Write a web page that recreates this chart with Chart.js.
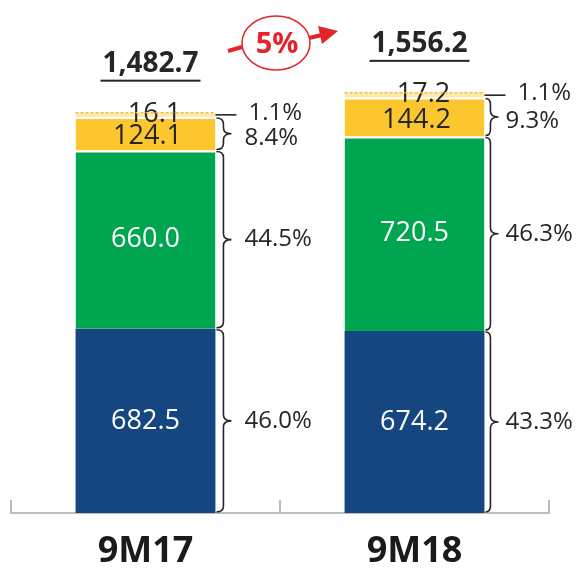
<!DOCTYPE html>
<html lang="en">
<head>
    <meta charset="UTF-8">
    <title>9M17 vs 9M18</title>
    <style>
        body {
            margin: 0;
            background: #fff;
        }
        #wrap {
            width: 579px;
            height: 571px;
        }
    </style>
    <script src="https://cdn.jsdelivr.net/npm/chart.js"></script>
</head>
<body>
    <div id="wrap">
        <canvas id="chart" width="579" height="571"></canvas>
    </div>

    <script>
        // Data
        const categories = ['9M17', '9M18'];
        const blueValues = [682.5, 674.2];
        const greenValues = [660.0, 720.5];
        const yellowValues = [124.1, 144.2];
        const topValues = [16.1, 17.2];
        const totalLabels = ['1,482.7', '1,556.2'];
        const bluePct = ['46.0%', '43.3%'];
        const greenPct = ['44.5%', '46.3%'];
        const yellowPct = ['8.4%', '9.3%'];
        const topPct = ['1.1%', '1.1%'];
        const growthLabel = '5%';

        const DARK = '#262626';
        const RED = '#e3252b';
        const FONT = "'Open Sans', sans-serif";

        // draws a curly brace to the right of a segment
        function brace(ctx, x0, x1, top, bot) {
            const mid = (top + bot) / 2;
            const r = Math.min(6, (bot - top) / 4);
            const tip = x1 + 8;
            ctx.beginPath();
            ctx.moveTo(x0, top);
            ctx.quadraticCurveTo(x1, top, x1, top + r);
            ctx.lineTo(x1, mid - r);
            ctx.quadraticCurveTo(x1, mid, tip, mid);
            ctx.quadraticCurveTo(x1, mid, x1, mid + r);
            ctx.lineTo(x1, bot - r);
            ctx.quadraticCurveTo(x1, bot, x0, bot);
            ctx.stroke();
            return tip;
        }

        const annotate = {
            id: 'annotate',
            afterDatasetsDraw(chart) {
                const ctx = chart.ctx;
                const xs = chart.scales.x;
                const area = chart.chartArea;
                const pcts = [bluePct, greenPct, yellowPct, topPct];
                const braceGap = [8, 6];
                const pctGap = [13, 7];

                ctx.save();

                // small tick marks between categories, above the axis
                const step = (xs.right - xs.left) / categories.length;
                ctx.strokeStyle = '#bdbdbd';
                ctx.lineWidth = 2;
                for (let i = 0; i <= categories.length; i++) {
                    const bx = Math.round(xs.left + i * step);
                    ctx.beginPath();
                    ctx.moveTo(bx, area.bottom);
                    ctx.lineTo(bx, area.bottom - 13);
                    ctx.stroke();
                }

                const bars = [];
                for (let i = 0; i < categories.length; i++) {
                    let topY = 0, xc = 0, right = 0;
                    for (let d = 0; d < chart.data.datasets.length; d++) {
                        const el = chart.getDatasetMeta(d).data[i];
                        const p = el.getProps(['x', 'y', 'base', 'width'], true);
                        const top = Math.min(p.y, p.base);
                        const bot = Math.max(p.y, p.base);
                        const mid = (top + bot) / 2;
                        const val = chart.data.datasets[d].data[i];
                        right = p.x + p.width / 2;
                        xc = p.x;
                        topY = top;

                        // value label
                        ctx.font = '27px ' + FONT;
                        ctx.textAlign = 'center';
                        ctx.textBaseline = 'middle';
                        if (d < 2) {
                            ctx.fillStyle = '#fff';
                            ctx.fillText(val.toFixed(1), p.x, mid);
                        } else if (d === 2) {
                            ctx.fillStyle = DARK;
                            ctx.fillText(val.toFixed(1), p.x + 2, mid + 3);
                        } else {
                            ctx.fillStyle = DARK;
                            ctx.fillText(val.toFixed(1), p.x + 9, mid - 1);
                            // dashed edge on the thin top segment
                            ctx.strokeStyle = '#f3c03a';
                            ctx.lineWidth = 1.5;
                            ctx.setLineDash([3, 2]);
                            ctx.beginPath();
                            ctx.moveTo(p.x - p.width / 2, top);
                            ctx.lineTo(p.x + p.width / 2, top);
                            ctx.stroke();
                            ctx.setLineDash([]);
                        }

                        // braces and shares
                        ctx.strokeStyle = DARK;
                        ctx.lineWidth = 1.6;
                        let textX, textY = mid;
                        if (d < 3) {
                            const tip = brace(ctx, right + 1, right + braceGap[i], top + 1, bot - 1);
                            textX = tip + pctGap[i];
                            if (d === 2) textY = mid + 4;
                        } else {
                            ctx.beginPath();
                            ctx.moveTo(right, mid);
                            ctx.lineTo(right + 21, mid);
                            ctx.stroke();
                            textX = right + 33;
                            textY = mid - 2;
                        }
                        ctx.font = '24px ' + FONT;
                        ctx.textAlign = 'left';
                        ctx.fillStyle = DARK;
                        ctx.fillText(pcts[d][i], textX, textY);
                    }
                    bars.push({ x: xc, top: topY });

                    // total above the bar, underlined
                    ctx.font = 'bold 28px ' + FONT;
                    ctx.textAlign = 'center';
                    ctx.fillStyle = DARK;
                    const ty = topY - 49;
                    const tx = xc + 5;
                    ctx.fillText(totalLabels[i], tx, ty);
                    const tw = ctx.measureText(totalLabels[i]).width;
                    ctx.fillRect(tx - tw / 2 - 2, ty + 16, tw + 4, 2);
                }

                // growth bubble with arrow
                const cx = (bars[0].x + bars[1].x) / 2 - 4;
                const cy = area.top + 43;
                ctx.strokeStyle = RED;
                ctx.fillStyle = RED;
                ctx.lineWidth = 1.5;
                ctx.beginPath();
                ctx.ellipse(cx, cy, 34, 27, 0, 0, Math.PI * 2);
                ctx.stroke();
                ctx.lineWidth = 4;
                ctx.beginPath();
                ctx.moveTo(cx - 48, cy + 8);
                ctx.lineTo(cx - 34, cy + 4);
                ctx.stroke();
                ctx.beginPath();
                ctx.moveTo(cx + 33, cy - 5);
                ctx.lineTo(cx + 46, cy - 8);
                ctx.stroke();
                ctx.beginPath();
                ctx.moveTo(cx + 62, cy - 12);
                ctx.lineTo(cx + 46, cy + 1);
                ctx.lineTo(cx + 42, cy - 17);
                ctx.closePath();
                ctx.fill();
                ctx.font = 'bold 29px ' + FONT;
                ctx.textAlign = 'center';
                ctx.textBaseline = 'middle';
                ctx.fillText(growthLabel, cx + 1, cy + 2);

                ctx.restore();
            }
        };

        const segBorder = { top: 2, bottom: 0, left: 0, right: 0 };

        new Chart(document.getElementById('chart'), {
            type: 'bar',
            data: {
                labels: categories,
                datasets: [
                    { data: blueValues, backgroundColor: '#164680', borderColor: '#fff', borderWidth: 0 },
                    { data: greenValues, backgroundColor: '#00a64f', borderColor: '#fff', borderWidth: segBorder, borderSkipped: false },
                    { data: yellowValues, backgroundColor: '#fbc62e', borderColor: '#fff', borderWidth: segBorder, borderSkipped: false },
                    { data: topValues, backgroundColor: '#fdeab0', borderWidth: 0 }
                ]
            },
            options: {
                responsive: false,
                animation: false,
                events: [],
                datasets: {
                    bar: { barPercentage: 0.52, categoryPercentage: 1 }
                },
                layout: { padding: { left: 11, right: 30, top: 0, bottom: 0 } },
                plugins: {
                    legend: { display: false },
                    tooltip: { enabled: false }
                },
                scales: {
                    x: {
                        stacked: true,
                        grid: { display: false, drawTicks: false },
                        border: { display: true, color: '#bdbdbd', width: 2 },
                        ticks: {
                            color: '#1a1a1a',
                            padding: 21,
                            font: { family: FONT, size: 36, weight: 'bold', lineHeight: 1 }
                        },
                        afterFit(scale) {
                            scale.height = 58;
                        }
                    },
                    y: {
                        stacked: true,
                        display: false,
                        min: 0,
                        max: 1900
                    }
                }
            },
            plugins: [annotate]
        });
    </script>
</body>
</html>
